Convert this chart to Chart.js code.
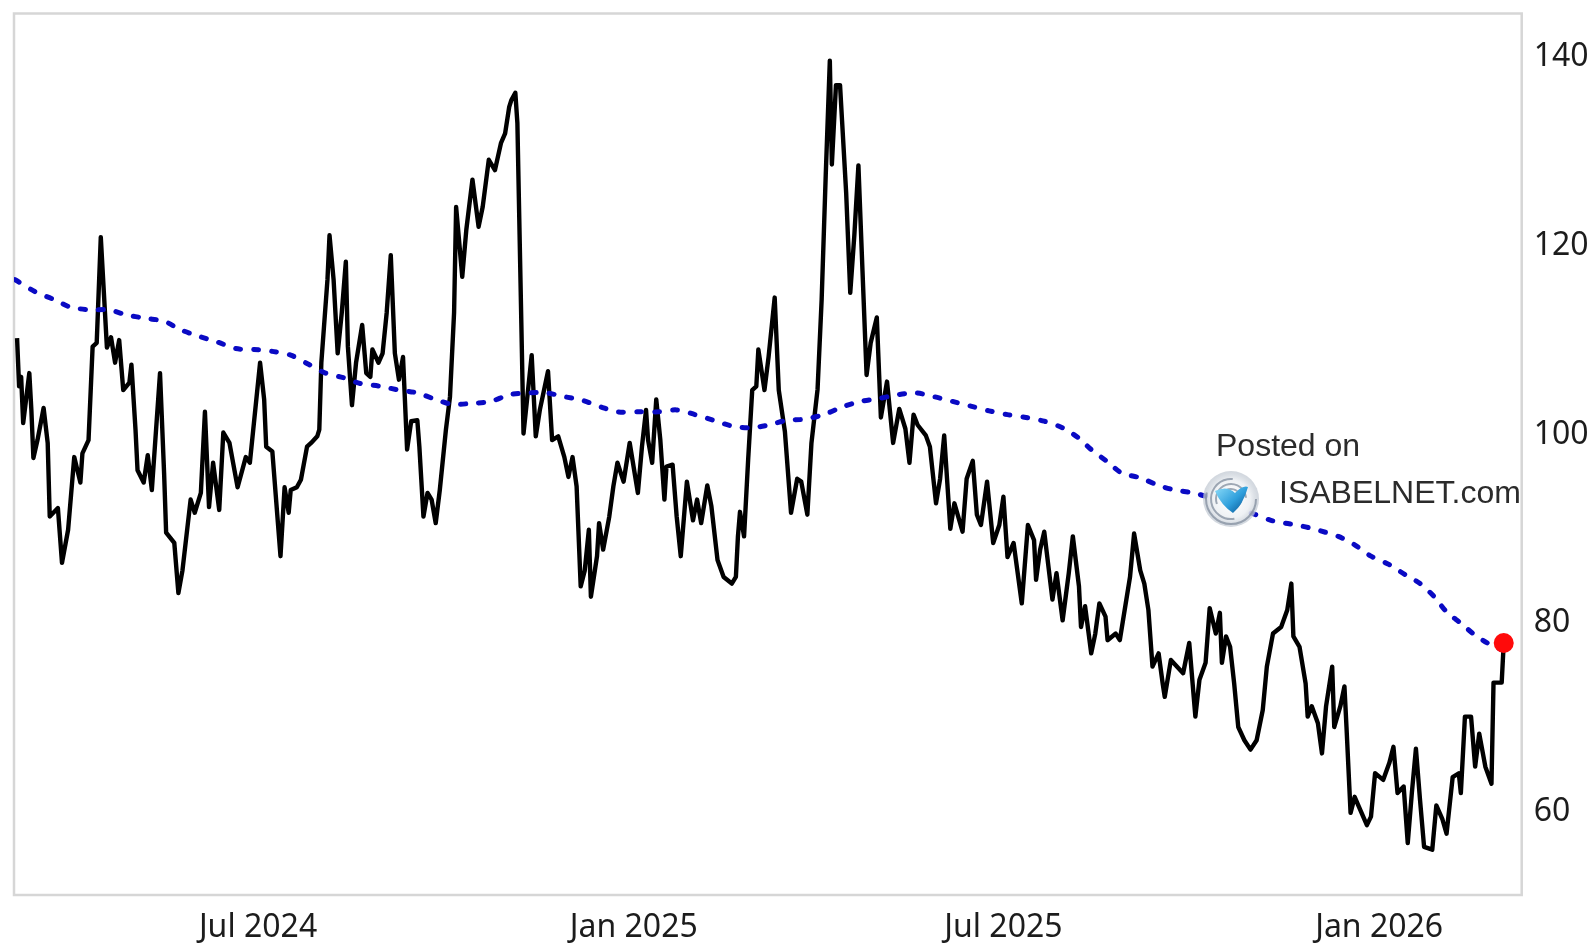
<!DOCTYPE html>
<html>
<head>
<meta charset="utf-8">
<script src="https://cdn.jsdelivr.net/npm/chart.js@4.4.1/dist/chart.umd.min.js"></script>
<style>
  html, body { margin: 0; padding: 0; background: #fff; }
  canvas { display: block; }
</style>
</head>
<body>
<canvas id="chart" width="1595" height="947"></canvas>
<script>
// x values are days counted from 1 Jul 2024
const xTickDays = [0, 184, 365, 549];
const xTickLabels = ['Jul 2024', 'Jan 2025', 'Jul 2025', 'Jan 2026'];
const yTickValues = [60, 80, 100, 120, 140];
const xRange = [-119.5, 618.8];
const yRange = [51.2, 144.6];

// daily index level, [day, value]
const indexLevel = [
  [-118,110.2],[-117,105.1],[-116,106.1],[-115,101.2],[-112,106.5],[-111,102.6],[-110,97.5],[-108,99.4],[-105,102.8],[-103,99.1],
  [-102,91.3],[-98,92.2],[-96,86.4],[-93,89.9],[-90,97.6],[-87,94.9],[-86,98.0],[-83,99.4],[-81,109.3],[-79,109.7],
  [-77,120.9],[-74,109.2],[-72,110.3],[-70,107.6],[-68,110.0],[-66,104.7],[-63,105.5],[-62,107.4],[-60,100.5],[-59,96.2],
  [-56,94.9],[-54,97.8],[-52,94.1],[-48,106.5],[-46,95.9],[-45,89.6],[-41,88.5],[-39,83.2],[-37,85.6],[-33,93.1],
  [-31,91.7],[-28,93.8],[-26,102.4],[-24,92.3],[-22,97.0],[-19,92.0],[-17,100.2],[-14,99.1],[-10,94.4],[-6,97.6],
  [-4,97.0],[1,107.6],[3,103.7],[4,98.7],[7,98.2],[11,87.1],[13,94.4],[15,91.7],[16,94.1],[19,94.4],
  [21,95.2],[24,98.7],[26,99.1],[29,99.8],[30,100.5],[31,107.6],[34,116.4],[35,121.1],[37,116.4],[39,108.6],
  [41,112.9],[43,118.3],[44,109.3],[46,103.1],[48,107.6],[51,111.6],[53,106.5],[55,106.1],[56,109.0],[59,107.6],
  [61,108.6],[63,112.9],[65,119.0],[67,108.6],[69,105.8],[71,108.2],[73,98.4],[75,101.4],[78,101.5],[79,98.7],
  [81,91.3],[83,93.8],[85,93.1],[87,90.6],[89,94.1],[92,100.5],[94,104.0],[96,112.9],[97,124.1],[100,116.7],
  [102,121.7],[105,127.0],[108,122.0],[110,124.1],[113,129.1],[116,128.0],[119,130.9],[121,131.9],[123,134.7],[124,135.4],
  [126,136.2],[127,133.0],[130,100.1],[134,108.4],[136,99.8],[138,102.6],[142,106.7],[144,99.4],[147,99.8],[150,97.6],
  [152,95.5],[154,97.6],[156,94.5],[158,83.9],[160,85.6],[162,89.9],[163,82.8],[166,87.1],[167,90.6],[169,87.8],
  [172,91.3],[174,94.5],[176,97.0],[179,95.0],[182,99.1],[186,93.8],[188,98.7],[190,102.6],[191,99.4],[193,97.0],
  [195,103.7],[197,99.4],[199,93.1],[200,96.6],[203,96.8],[205,91.3],[207,87.1],[210,95.0],[213,90.9],[215,93.1],
  [217,90.6],[220,94.6],[222,92.4],[225,86.7],[228,84.9],[232,84.2],[234,84.9],[235,89.2],[236,91.8],[238,89.2],
  [240,97.3],[242,104.7],[244,105.1],[245,109.0],[248,104.7],[250,108.2],[253,114.5],[255,104.7],[258,100.3],[261,91.7],
  [264,95.3],[266,95.0],[269,91.5],[271,99.1],[274,104.8],[276,114.3],[278,127.5],[280,139.6],[281,128.6],[283,137.0],
  [285,137.0],[286,133.2],[288,125.6],[290,115.0],[292,121.1],[294,128.5],[296,117.3],[298,106.3],[300,109.7],[303,112.4],
  [305,101.8],[308,105.6],[311,99.1],[314,102.7],[317,100.6],[319,97.0],[321,102.1],[323,101.0],[327,99.9],[329,98.7],
  [332,92.7],[334,95.3],[336,99.9],[339,90.0],[341,92.7],[345,89.7],[347,95.3],[350,97.2],[352,91.5],[354,90.4],
  [357,95.0],[360,88.5],[363,90.4],[365,93.4],[367,87.0],[370,88.5],[374,82.1],[377,90.4],[380,88.8],[381,84.6],
  [383,87.8],[385,89.7],[389,82.5],[391,85.3],[394,80.3],[397,85.3],[399,89.2],[402,83.9],[403,79.6],[405,81.8],
  [408,76.8],[410,78.9],[412,82.1],[415,80.7],[416,78.2],[420,78.9],[422,78.2],[427,84.9],[429,89.5],[432,85.6],
  [434,84.2],[436,81.4],[438,75.4],[441,76.8],[443,73.6],[444,72.2],[447,76.1],[453,74.7],[456,77.9],[459,70.1],
  [461,74.0],[464,75.8],[466,81.6],[469,78.9],[471,81.1],[472,75.8],[474,78.6],[476,77.5],[478,73.6],[480,69.0],
  [483,67.6],[486,66.6],[489,67.6],[492,70.8],[494,75.4],[497,78.9],[501,79.6],[504,81.4],[506,84.2],[507,78.6],
  [510,77.5],[513,73.6],[514,70.1],[516,71.2],[519,69.4],[521,66.2],[523,71.2],[526,75.4],[527,69.0],[530,71.2],
  [532,73.3],[533,69.0],[535,59.9],[537,61.6],[539,60.6],[543,58.6],[545,59.5],[547,64.1],[551,63.4],[554,65.2],
  [556,66.9],[558,62.0],[561,62.7],[563,56.7],[565,62.0],[567,66.7],[569,61.3],[571,56.3],[575,56.0],[577,60.7],
  [580,59.2],[582,57.7],[585,63.7],[588,64.1],[589,62.0],[591,70.1],[594,70.1],[596,64.8],[598,68.3],[601,64.8],
  [604,63.0],[605,73.7],[609,73.7],[610,77.9]
];

// moving average (blue dotted), [day, value]
const movingAverage = [
  [-119,116.4],[-109,115.1],[-100,114.3],[-92,113.5],[-82,113.2],[-73,113.2],[-65,112.7],[-55,112.3],[-46,112.0],[-38,111.1],
  [-29,110.4],[-20,109.8],[-11,109.1],[-2,109.0],[7,108.8],[16,108.4],[25,107.4],[33,106.5],[42,106.0],[50,105.4],
  [60,105.1],[69,104.7],[78,104.4],[87,103.7],[95,103.2],[105,103.3],[114,103.5],[123,104.2],[132,104.4],[141,104.4],
  [150,104.0],[159,103.6],[168,102.9],[176,102.4],[187,102.4],[196,102.4],[205,102.6],[214,102.1],[223,101.5],[232,100.9],
  [241,100.7],[250,101.0],[259,101.5],[267,101.6],[277,102.1],[286,102.9],[295,103.5],[304,103.8],[313,104.2],[322,104.4],
  [331,104.0],[340,103.5],[349,103.0],[358,102.5],[367,102.1],[376,101.8],[385,101.4],[394,100.7],[402,99.6],[408,98.4],
  [416,97.1],[423,95.9],[432,95.4],[441,94.6],[449,94.1],[458,93.8],[466,93.3],[476,92.4],[486,91.7],[496,90.9],
  [503,90.6],[511,90.3],[520,89.8],[529,89.2],[537,88.3],[545,87.1],[554,86.2],[562,85.1],[569,84.2],[576,82.8],
  [582,81.2],[589,80.0],[595,78.9],[602,77.9],[609,77.2]
];

const lastPoint = indexLevel[indexLevel.length - 1];
const toXY = (arr) => arr.map(([d, v]) => ({ x: d, y: v }));

// Light frame round the plot area
const framePlugin = {
    id: 'frame',
    beforeDatasetsDraw(chart) {
        const { ctx, chartArea: a } = chart;
        ctx.save();
        ctx.strokeStyle = '#d6d6d6';
        ctx.lineWidth = 2.5;
        ctx.strokeRect(a.left, a.top, a.right - a.left, a.bottom - a.top);
        ctx.restore();
    }
};

// "Posted on ISABELNET.com" stamp with its globe logo
const stampPlugin = {
    id: 'stamp',
    afterDatasetsDraw(chart) {
        const ctx = chart.ctx;
        ctx.save();
        const cx = 1231, cy = 499, r = 28;
        let g = ctx.createRadialGradient(cx, cy, 3, cx, cy, r);
        g.addColorStop(0, '#ffffff');
        g.addColorStop(0.65, '#eef1f4');
        g.addColorStop(1, 'rgba(190,198,208,0.7)');
        ctx.fillStyle = g;
        ctx.beginPath();
        ctx.arc(cx, cy, r, 0, Math.PI * 2);
        ctx.fill();
        ctx.strokeStyle = 'rgba(130,142,158,0.75)';
        ctx.lineWidth = 2;
        for (let i = 0; i < 4; i++) {
            ctx.beginPath();
            ctx.arc(cx, cy, r - 3 - i * 5, i * 1.4, i * 1.4 + 3.4);
            ctx.stroke();
        }
        let b = ctx.createLinearGradient(cx - 14, cy - 12, cx + 10, cy + 14);
        b.addColorStop(0, '#86d8f7');
        b.addColorStop(0.6, '#2f9fdc');
        b.addColorStop(1, '#0d5f9e');
        ctx.fillStyle = b;
        ctx.beginPath();
        ctx.moveTo(cx - 16, cy - 8);
        ctx.quadraticCurveTo(cx - 4, cy - 14, cx + 4, cy - 6);
        ctx.quadraticCurveTo(cx + 12, cy - 14, cx + 17, cy - 12);
        ctx.quadraticCurveTo(cx + 12, cy + 6, cx + 2, cy + 14);
        ctx.quadraticCurveTo(cx - 10, cy + 6, cx - 16, cy - 8);
        ctx.fill();
        ctx.fillStyle = '#2b2b2b';
        ctx.font = '32px "Liberation Sans", Arial, sans-serif';
        ctx.textBaseline = 'alphabetic';
        ctx.fillText('Posted on', 1216, 456);
        ctx.fillText('ISABELNET.com', 1279, 503);
        ctx.restore();
    }
};

const tickFont = { family: '"Noto Sans", sans-serif', size: 32 };

new Chart(document.getElementById('chart'), {
    type: 'line',
    data: {
        datasets: [
            {
                label: 'Latest',
                data: [{ x: lastPoint[0], y: lastPoint[1] }],
                showLine: false,
                pointRadius: 10,
                pointBackgroundColor: '#ff0a0a',
                pointBorderWidth: 0,
                order: 0
            },
            {
                label: 'Moving average',
                data: toXY(movingAverage),
                borderColor: '#0a0ac4',
                borderWidth: 5,
                borderDash: [5, 13],
                borderCapStyle: 'round',
                pointRadius: 0,
                tension: 0.3,
                order: 1
            },
            {
                label: 'Index',
                data: toXY(indexLevel),
                borderColor: '#000000',
                borderWidth: 4.4,
                borderJoinStyle: 'round',
                pointRadius: 0,
                tension: 0,
                order: 2
            }
        ]
    },
    options: {
        responsive: false,
        animation: false,
        events: [],
        devicePixelRatio: 1,
        layout: { padding: { left: 14, top: 13.5, right: 0, bottom: 0 } },
        plugins: {
            legend: { display: false },
            tooltip: { enabled: false }
        },
        scales: {
            x: {
                type: 'linear',
                min: xRange[0],
                max: xRange[1],
                grid: { display: false, drawTicks: false },
                border: { display: false },
                afterBuildTicks: (scale) => { scale.ticks = xTickDays.map(v => ({ value: v })); },
                afterFit: (scale) => {
                    scale.height = 52;
                    scale.paddingLeft = 0;
                    scale.paddingRight = 0;
                },
                ticks: {
                    autoSkip: false,
                    maxRotation: 0,
                    padding: 14,
                    color: '#1c1c1c',
                    font: tickFont,
                    callback: (v) => xTickLabels[xTickDays.indexOf(v)]
                }
            },
            y: {
                type: 'linear',
                position: 'right',
                min: yRange[0],
                max: yRange[1],
                grid: { display: false, drawTicks: false },
                border: { display: false },
                afterBuildTicks: (scale) => { scale.ticks = yTickValues.map(v => ({ value: v })); },
                afterFit: (scale) => {
                    scale.width = 73.3;
                    scale.paddingTop = 0;
                    scale.paddingBottom = 0;
                },
                ticks: {
                    padding: 12,
                    color: '#1c1c1c',
                    font: tickFont,
                    callback: (v) => String(v)
                }
            }
        }
    },
    plugins: [framePlugin, stampPlugin]
});
</script>
</body>
</html>
